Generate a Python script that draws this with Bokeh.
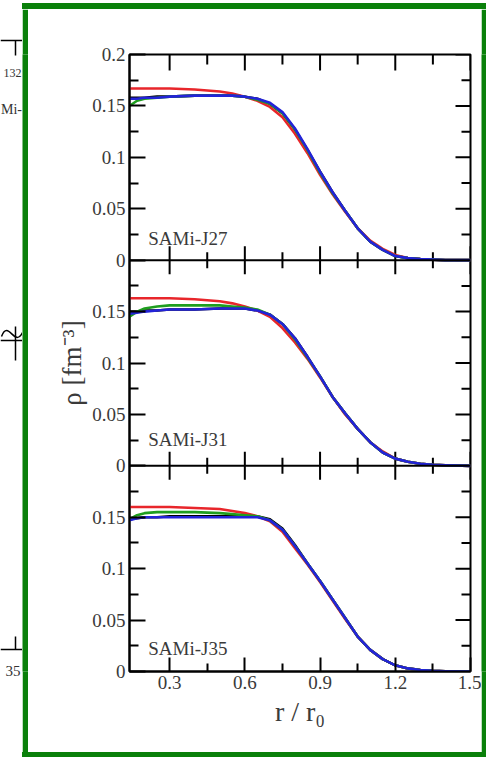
import math
from bokeh.plotting import figure
from bokeh.layouts import row, column
from bokeh.models import Range1d, LinearAxis, FixedTicker, Span, Label, Div
from bokeh.core.properties import value
from bokeh.embed import file_html
from bokeh.resources import INLINE

# ---------------- data ----------------
r_grid = [0.14, 0.17, 0.2, 0.25, 0.3, 0.4, 0.5, 0.55, 0.6, 0.65, 0.7, 0.75, 0.8,
          0.85, 0.9, 0.95, 1.0, 1.05, 1.1, 1.15, 1.2, 1.25, 1.3, 1.35, 1.4, 1.5]

j27_black = [0.158, 0.158, 0.158, 0.159, 0.159, 0.160, 0.160, 0.160, 0.159, 0.157, 0.152, 0.143, 0.127,
             0.107, 0.086, 0.066, 0.048, 0.031, 0.018, 0.010, 0.004, 0.002, 0.001, 0.0005, 0.0, 0.0]
j27_red = [0.167, 0.167, 0.167, 0.167, 0.167, 0.166, 0.164, 0.162, 0.159, 0.155, 0.149, 0.139, 0.123,
           0.104, 0.083, 0.064, 0.047, 0.031, 0.019, 0.011, 0.005, 0.002, 0.001, 0.0005, 0.0, 0.0]
j27_green = [0.150, 0.155, 0.157, 0.158, 0.159, 0.160, 0.160, 0.160, 0.159, 0.156, 0.152, 0.143, 0.127,
             0.107, 0.085, 0.065, 0.048, 0.031, 0.018, 0.010, 0.004, 0.002, 0.001, 0.0005, 0.0, 0.0]
j27_blue = [0.157, 0.157, 0.158, 0.158, 0.159, 0.160, 0.160, 0.160, 0.159, 0.157, 0.153, 0.144, 0.128,
            0.108, 0.086, 0.066, 0.048, 0.031, 0.018, 0.010, 0.004, 0.002, 0.001, 0.0005, 0.0, 0.0]

j31_black = [0.150, 0.150, 0.151, 0.151, 0.152, 0.152, 0.153, 0.153, 0.153, 0.151, 0.147, 0.138, 0.124,
             0.106, 0.087, 0.067, 0.051, 0.036, 0.023, 0.013, 0.007, 0.004, 0.002, 0.001, 0.0005, 0.0]
j31_red = [0.163, 0.163, 0.163, 0.163, 0.163, 0.162, 0.160, 0.158, 0.155, 0.151, 0.145, 0.134, 0.120,
           0.104, 0.086, 0.067, 0.050, 0.036, 0.023, 0.014, 0.007, 0.004, 0.002, 0.001, 0.0005, 0.0]
j31_green = [0.145, 0.150, 0.153, 0.155, 0.156, 0.156, 0.156, 0.155, 0.154, 0.152, 0.147, 0.138, 0.123,
             0.105, 0.087, 0.067, 0.051, 0.036, 0.023, 0.013, 0.007, 0.004, 0.002, 0.001, 0.0005, 0.0]
j31_blue = [0.148, 0.149, 0.150, 0.151, 0.152, 0.152, 0.153, 0.153, 0.153, 0.151, 0.147, 0.138, 0.124,
            0.106, 0.087, 0.067, 0.051, 0.036, 0.023, 0.013, 0.007, 0.004, 0.002, 0.001, 0.0005, 0.0]

j35_black = [0.148, 0.149, 0.150, 0.150, 0.151, 0.151, 0.151, 0.151, 0.151, 0.151, 0.148, 0.139, 0.123,
             0.105, 0.088, 0.070, 0.052, 0.034, 0.021, 0.012, 0.006, 0.003, 0.0015, 0.0007, 0.0003, 0.0]
j35_red = [0.160, 0.160, 0.160, 0.160, 0.160, 0.159, 0.158, 0.156, 0.154, 0.151, 0.146, 0.136, 0.120,
           0.104, 0.087, 0.069, 0.051, 0.034, 0.021, 0.012, 0.006, 0.003, 0.0015, 0.0007, 0.0003, 0.0]
j35_green = [0.148, 0.152, 0.154, 0.155, 0.155, 0.155, 0.154, 0.153, 0.152, 0.151, 0.147, 0.138, 0.122,
             0.105, 0.088, 0.070, 0.052, 0.034, 0.021, 0.012, 0.006, 0.003, 0.0015, 0.0007, 0.0003, 0.0]
j35_blue = [0.147, 0.149, 0.150, 0.150, 0.150, 0.150, 0.150, 0.150, 0.150, 0.150, 0.147, 0.138, 0.122,
            0.105, 0.088, 0.070, 0.052, 0.034, 0.021, 0.012, 0.006, 0.003, 0.0015, 0.0007, 0.0003, 0.0]

panel_names = ["SAMi-J27", "SAMi-J31", "SAMi-J35"]
series_colors = ["#000000", "#e8262b", "#1f9e1f", "#2323d8"]   # black, red, green, blue

x_tick_values = [0.3, 0.6, 0.9, 1.2, 1.5]
x_tick_labels = ["0.3", "0.6", "0.9", "1.2", "1.5"]
x_minor_ticks = [0.45, 0.75, 1.05, 1.35]
y_tick_values = [0, 0.05, 0.1, 0.15, 0.2]
y_tick_labels = ["0", "0.05", "0.1", "0.15", "0.2"]
y_minor_ticks = [0.025, 0.075, 0.125, 0.175]

x_title = "r / r₀"
y_title = "ρ [fm⁻³]"

# fragment of the neighbouring figure (cut by the frame)
frag_texts = ["132", "Mi-", "35"]

panels = [
    ("p1", [j27_black, j27_red, j27_green, j27_blue]),
    ("p2", [j31_black, j31_red, j31_green, j31_blue]),
    ("p3", [j35_black, j35_red, j35_green, j35_blue]),
]

FONT = "Liberation Serif"
TXT = "#3a3a3a"
GREEN = "#0a800a"


def bar(w, h, color):
    return Div(text="", width=w, height=h,
               styles={"background-color": color, "margin": "0", "padding": "0"})


def tall_bar(w, h, color):
    f = figure(width=w, height=h, x_axis_type=None, y_axis_type=None, output_backend="svg",
               toolbar_location=None, min_border=0, title=None)
    f.background_fill_color = color
    f.border_fill_color = color
    f.outline_line_color = None
    return f


# ---------------- main figure ----------------
p = figure(width=453, height=743, x_range=Range1d(0.14, 1.5), y_range=Range1d(0, 0.6),
           x_axis_type=None, y_axis_type=None, output_backend="svg", toolbar_location=None,
           min_border_left=101, min_border_right=11, min_border_top=45, min_border_bottom=81)
p.background_fill_color = "white"
p.border_fill_color = "white"
p.outline_line_color = "black"
p.outline_line_width = 2

p.extra_y_ranges = {"p1": Range1d(-0.4, 0.2), "p2": Range1d(-0.2, 0.4), "p3": Range1d(0, 0.6)}

offsets = [0.0, 0.2, 0.4]
y_major, y_minor, y_over = [], [], {}
for off in offsets:
    for v, lab in zip(y_tick_values, y_tick_labels):
        t = round(v + off, 3)
        if t not in y_major:
            y_major.append(t)
        y_over[t] = lab
    for v in y_minor_ticks:
        y_minor.append(round(v + off, 3))


def style_axis(ax, major_in, minor_in):
    ax.axis_line_color = "black"
    ax.axis_line_width = 2
    ax.major_tick_line_color = "black"
    ax.major_tick_line_width = 2
    ax.minor_tick_line_color = "black"
    ax.minor_tick_line_width = 2
    ax.major_tick_in = major_in
    ax.major_tick_out = 0
    ax.minor_tick_in = minor_in
    ax.minor_tick_out = 0
    ax.major_label_text_font = FONT
    ax.major_label_text_color = TXT
    ax.major_label_text_font_size = "19px"
    ax.major_label_standoff = 4
    ax.axis_label_text_font = FONT
    ax.axis_label_text_font_style = "normal"
    ax.axis_label_text_color = TXT


left = LinearAxis(ticker=FixedTicker(ticks=y_major, minor_ticks=y_minor), axis_label=y_title)
left.major_label_overrides = y_over
style_axis(left, 16, 9)
left.axis_label_text_font_size = "27px"
left.axis_label_standoff = 2
p.add_layout(left, "left")

bottom = LinearAxis(ticker=FixedTicker(ticks=x_tick_values, minor_ticks=x_minor_ticks),
                    axis_label=x_title)
bottom.major_label_overrides = {v: s for v, s in zip(x_tick_values, x_tick_labels)}
style_axis(bottom, 14, 8)
bottom.axis_label_text_font_size = "28px"
bottom.axis_label_standoff = 4
p.add_layout(bottom, "below")

# inward ticks on the right and top edges (outer half clipped by the frame)
xr_end = p.x_range.end
yr_end = p.y_range.end
p.scatter(x=[xr_end] * len(y_major), y=y_major, marker="dash", size=30,
          line_color="black", line_width=2)
p.scatter(x=[xr_end] * len(y_minor), y=y_minor, marker="dash", size=18,
          line_color="black", line_width=2)
p.scatter(x=x_tick_values, y=[yr_end] * len(x_tick_values), marker="dash", angle=math.pi / 2,
          size=32, line_color="black", line_width=2)
p.scatter(x=x_minor_ticks, y=[yr_end] * len(x_minor_ticks), marker="dash", angle=math.pi / 2,
          size=20, line_color="black", line_width=2)

# panel boundaries with ticks on both sides
for rn in ["p2", "p3"]:
    ytop = y_tick_values[-1]
    p.add_layout(Span(location=ytop, dimension="width", y_range_name=rn,
                      line_color="black", line_width=2))
    p.scatter(x=x_tick_values, y=[ytop] * len(x_tick_values), y_range_name=rn, marker="dash",
              angle=math.pi / 2, size=28, line_color="black", line_width=2)
    p.scatter(x=x_minor_ticks, y=[ytop] * len(x_minor_ticks), y_range_name=rn, marker="dash",
              angle=math.pi / 2, size=16, line_color="black", line_width=2)

# curves
for rn, series in panels:
    for vals, col in zip(series, series_colors):
        p.line(x=r_grid, y=vals, y_range_name=rn, line_color=col, line_width=2.6,
               line_join="round")

# panel labels
for (rn, _), name, ly in zip(panels, panel_names, [0.021, 0.026, 0.022]):
    p.add_layout(Label(x=0.215, y=ly, y_range_name=rn, text=name, text_font=FONT,
                       text_font_size="19px", text_color=TXT, text_baseline="middle"))

# ---------------- left fragment ----------------
frag = figure(width=22, height=757, x_range=Range1d(0, 22), y_range=Range1d(757, 0),
              x_axis_type=None, y_axis_type=None, output_backend="svg",
              toolbar_location=None, min_border=0, title=None)
frag.background_fill_color = "white"
frag.border_fill_color = "white"
frag.outline_line_color = None
frag.segment(x0=[0, 15, 0, 15, 0, 15], y0=[40, 40, 340, 326, 649, 636],
             x1=[22, 15, 22, 15, 22, 15], y1=[40, 55, 340, 360, 649, 649],
             line_color="black", line_width=1.5)
frag.bezier(x0=[1], y0=[336], x1=[22], y1=[332], cx0=[8], cy0=[318], cx1=[14], cy1=[348],
            line_color="black", line_width=1.5)
frag.text(x=[3, 21.5, 5], y=[72, 109, 670], text=frag_texts,
          text_font=value(FONT), text_font_size=["12px", "14px", "15px"],
          text_color="#333333", text_align=["left", "right", "left"],
          text_baseline="alphabetic")

# ---------------- green frame ----------------
top_white = bar(464, 3, "white")
g_top = bar(464, 6, GREEN)
g_left = tall_bar(6, 743, GREEN)
g_right = tall_bar(5, 743, GREEN)
g_bot = bar(464, 5, GREEN)

layout = row(frag, column(top_white, g_top, row(g_left, p, g_right, spacing=0), g_bot, spacing=0),
             spacing=0)

open("out.html", "w").write(file_html(layout, INLINE))
